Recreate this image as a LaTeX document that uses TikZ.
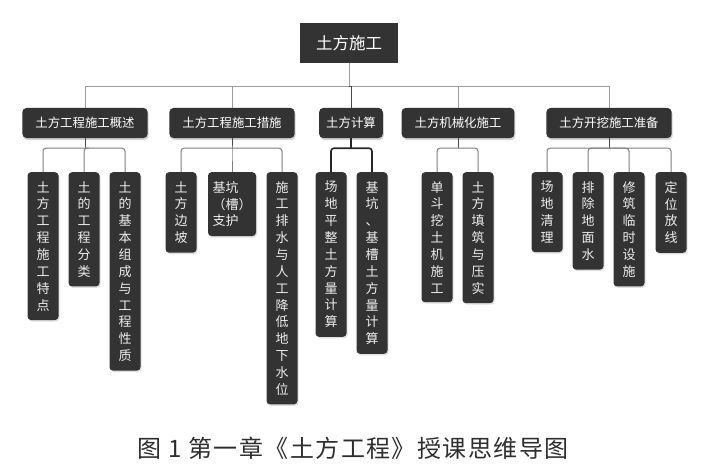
\documentclass[tikz,border=0pt]{standalone}
\usepackage{fontspec}
\setmainfont{Noto Sans CJK SC}
\usetikzlibrary{shadows}
\definecolor{boxdark}{HTML}{333333}
\definecolor{trunkgray}{HTML}{9C9C9C}
\definecolor{twigdark}{HTML}{4A4A4A}
\definecolor{twiggray}{HTML}{7E7E7E}
\definecolor{leaftext}{HTML}{EDEDED}
\begin{document}
\begin{tikzpicture}[x=1pt,y=-1pt,font=\fontsize{13}{16.85}\selectfont,
  rootbox/.style={fill=boxdark,text=white,minimum width=98pt,minimum height=40pt,inner sep=0pt,font=\fontsize{16.5}{20}\selectfont},
  topicbox/.style={fill=boxdark,text=white,rounded corners=4pt,minimum height=30pt,inner xsep=13pt,inner ysep=0pt,font=\fontsize{12.4}{15}\selectfont,drop shadow={opacity=0.35,shadow xshift=1pt,shadow yshift=-2pt}},
  leafbox/.style={fill=boxdark,text=leaftext,rounded corners=3.5pt,anchor=north,minimum width=31pt,inner xsep=4.5pt,inner ysep=9pt,align=center,drop shadow={opacity=0.25,shadow xshift=1pt,shadow yshift=-1.5pt}},
  trunk/.style={draw=trunkgray,line width=1pt},
  twig/.style={draw=twigdark,line width=1pt},
  drop/.style={draw=twiggray,line width=1pt,rounded corners=3pt},
  hotline/.style={draw=black!85,line width=1.6pt,rounded corners=3pt}]
\useasboundingbox (0,0) rectangle (703,468);

\node[rootbox] (root) at (349,43) {土方施工};

\node[topicbox] (b1) at (85,123) {土方工程施工概述};
\node[topicbox] (b2) at (232,123) {土方工程施工措施};
\node[topicbox,inner xsep=7pt] (b3) at (351,123) {土方计算};
\node[topicbox] (b4) at (458,123) {土方机械化施工};
\node[topicbox] (b5) at (609,123) {土方开挖施工准备};

\node[leafbox] (c11) at (43,172) {土\\方\\工\\程\\施\\工\\特\\点};
\node[leafbox] (c12) at (84,172) {土\\的\\工\\程\\分\\类};
\node[leafbox] (c13) at (125,172) {土\\的\\基\\本\\组\\成\\与\\工\\程\\性\\质};

\node[leafbox] (c21) at (181,172) {土\\方\\边\\坡};
\node[leafbox,align=left] (c22) at (232,172) {基坑\\（槽）\\支护};
\node[leafbox] (c23) at (282,172) {施\\工\\排\\水\\与\\人\\工\\降\\低\\地\\下\\水\\位};

\node[leafbox] (c31) at (331,172) {场\\地\\平\\整\\土\\方\\量\\计\\算};
\node[leafbox] (c32) at (372,172) {基\\坑\\、\\基\\槽\\土\\方\\量\\计\\算};

\node[leafbox] (c41) at (437,172) {单\\斗\\挖\\土\\机\\施\\工};
\node[leafbox] (c42) at (478,172) {土\\方\\填\\筑\\与\\压\\实};

\node[leafbox] (c51) at (547,172) {场\\地\\清\\理};
\node[leafbox] (c52) at (588,172) {排\\除\\地\\面\\水};
\node[leafbox] (c53) at (629,172) {修\\筑\\临\\时\\设\\施};
\node[leafbox] (c54) at (671,172) {定\\位\\放\\线};

\node[text=black!82,font=\fontsize{24}{28}\selectfont\addfontfeature{LetterSpace=6}] (caption) at (353,448) {图 1 第一章《土方工程》授课思维导图};

\draw[trunk] (root.south) -- ++(0,23) coordinate (hub);
\foreach \b in {b1,b2,b4,b5}
  \draw[trunk] (hub) -| (\b.north);
\draw[twig] (hub) -| (b3.north);

\draw[twig] (b1.south) -- ++(0,10) coordinate (j1);
\draw[twig] (b2.south) -- ++(0,10) coordinate (j2);
\draw[hotline] (b3.south) -- ++(0,10) coordinate (j3);
\draw[twig] (b4.south) -- ++(0,10) coordinate (j4);
\draw[twig] (b5.south) -- ++(0,10) coordinate (j5);

\foreach \c in {c11,c12,c13}
  \draw[drop] (j1) -| (\c.north);
\foreach \c in {c21,c22,c23}
  \draw[drop] (j2) -| (\c.north);
\foreach \c in {c31,c32}
  \draw[hotline] (j3) -| (\c.north);
\foreach \c in {c41,c42}
  \draw[drop] (j4) -| (\c.north);
\foreach \c in {c51,c52,c53,c54}
  \draw[drop] (j5) -| (\c.north);
\end{tikzpicture}
\end{document}
